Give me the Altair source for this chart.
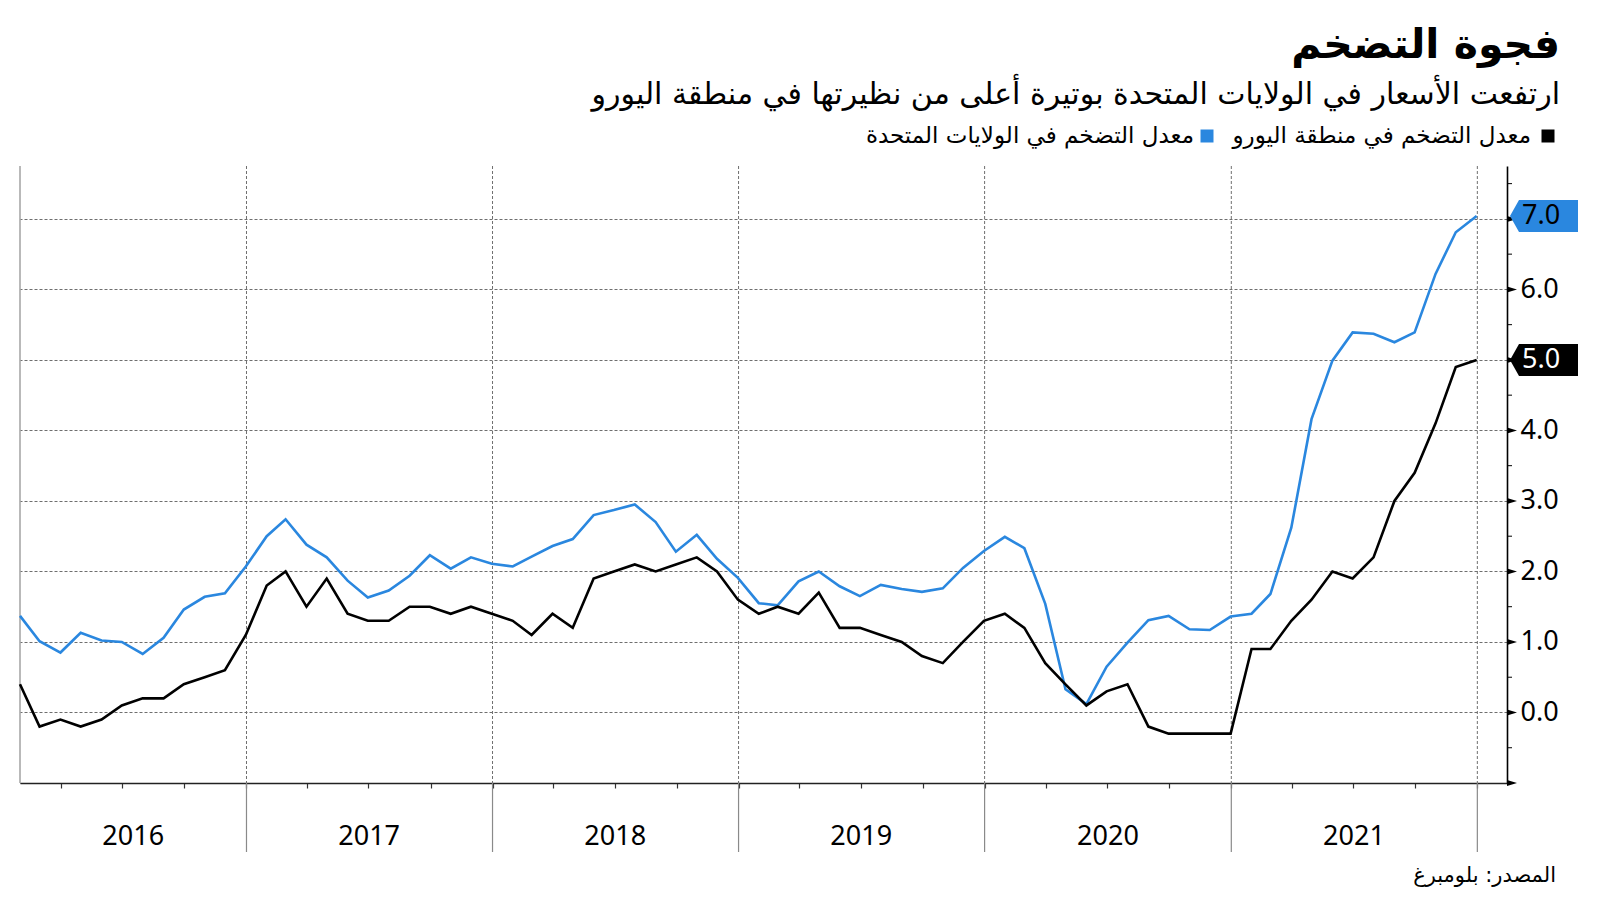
import altair as alt
import pandas as pd

# ---------------- data ----------------
US = [1.37, 1.01, 0.85, 1.13, 1.02, 1.00, 0.83, 1.06, 1.46, 1.64, 1.69, 2.07,
      2.50, 2.74, 2.38, 2.20, 1.87, 1.63, 1.73, 1.94, 2.23, 2.04, 2.20, 2.11,
      2.07, 2.21, 2.36, 2.46, 2.80, 2.87, 2.95, 2.70, 2.28, 2.52, 2.18, 1.91,
      1.55, 1.52, 1.86, 2.00, 1.79, 1.65, 1.81, 1.75, 1.71, 1.76, 2.05, 2.29,
      2.49, 2.33, 1.54, 0.33, 0.12, 0.65, 0.99, 1.31, 1.37, 1.18, 1.17, 1.36,
      1.40, 1.68, 2.62, 4.16, 4.99, 5.39, 5.37, 5.25, 5.39, 6.22, 6.81, 7.04]
EURO = [0.4, -0.2, -0.1, -0.2, -0.1, 0.1, 0.2, 0.2, 0.4, 0.5, 0.6, 1.1,
        1.8, 2.0, 1.5, 1.9, 1.4, 1.3, 1.3, 1.5, 1.5, 1.4, 1.5, 1.4,
        1.3, 1.1, 1.4, 1.2, 1.9, 2.0, 2.1, 2.0, 2.1, 2.2, 2.0, 1.6,
        1.4, 1.5, 1.4, 1.7, 1.2, 1.2, 1.1, 1.0, 0.8, 0.7, 1.0, 1.3,
        1.4, 1.2, 0.7, 0.4, 0.1, 0.3, 0.4, -0.2, -0.3, -0.3, -0.3, -0.3,
        0.9, 0.9, 1.3, 1.6, 2.0, 1.9, 2.2, 3.0, 3.4, 4.1, 4.9, 5.0]
YEARS = [2016, 2017, 2018, 2019, 2020, 2021]
YEAR_LABEL_DATES = ["2016-07-17", "2017-07-02", "2018-07-02", "2019-07-02",
                    "2020-07-02", "2021-07-02"]
Y_TICKS = [-1, 0, 1, 2, 3, 4, 5, 6, 7]
Y_MINOR = [-0.5, 0.5, 1.5, 2.5, 3.5, 4.5, 5.5, 6.5, 7.5]

TITLE = "فجوة التضخم"
SUBTITLE = "ارتفعت الأسعار في الولايات المتحدة بوتيرة أعلى من نظيرتها في منطقة اليورو"
LEG_EURO = "معدل التضخم في منطقة اليورو"
LEG_US = "معدل التضخم في الولايات المتحدة"
SOURCE = "المصدر: بلومبرغ"

BLUE = "#2a87df"
BLACK = "#000000"
GRID = "#6f6f6f"
AR_FONT = "DejaVu Sans"
NUM_FONT = "Noto Sans"

W, H = 1487, 617

dates = pd.date_range("2016-01-31", periods=len(US), freq="ME").strftime("%Y-%m-%d")
df = pd.DataFrame({
    "date": list(dates) * 2,
    "value": US + EURO,
    "series": ["us"] * len(US) + ["euro"] * len(EURO),
})

xscale = alt.Scale(type="utc",
                   domain=[alt.DateTime(year=2016, month=1, date=31, utc=True),
                           alt.DateTime(year=2022, month=2, date=14, utc=True)])
yscale = alt.Scale(domain=[-1, 7.75], nice=False, zero=False)

quarter_ticks = []
for yr in YEARS:
    for m in (1, 4, 7, 10):
        if yr == 2016 and m == 1:
            continue
        quarter_ticks.append(alt.DateTime(year=yr, month=m, date=1, utc=True))
quarter_ticks.append(alt.DateTime(year=2022, month=1, date=1, utc=True))

badge_vals = [US[-1], EURO[-1]]

lines = alt.Chart(df).mark_line(strokeWidth=2.6, strokeJoin="miter").encode(
    x=alt.X("date:T", scale=xscale,
            axis=alt.Axis(values=quarter_ticks, labels=False, grid=False, title=None,
                          tickSize=5, tickColor="#333", tickWidth=1.2,
                          domainColor="#222", domainWidth=1.6, zindex=0)),
    y=alt.Y("value:Q", scale=yscale,
            axis=alt.Axis(orient="right", values=Y_TICKS, title=None,
                          labelExpr="(datum.value < 0 || datum.value == 5 || datum.value == 7) ? '' : format(datum.value, '.1f')",
                          labelFont=NUM_FONT, labelFontSize=27, labelColor="#000",
                          labelPadding=13, ticks=False,
                          domain=True, domainColor="#000", domainWidth=1.6,
                          grid=True, gridColor=GRID, gridDash=[3, 2], gridWidth=1,
                          zindex=0)),
    color=alt.Color("series:N", scale=alt.Scale(domain=["us", "euro"], range=[BLUE, BLACK]),
                    legend=None),
    detail="series:N",
)

# year boundaries
ydf = pd.DataFrame({"d": [f"{y + 1}-01-01" for y in YEARS]})
year_grid = alt.Chart(ydf).mark_rule(color=GRID, strokeDash=[3, 2], strokeWidth=1).encode(
    x=alt.X("d:T", scale=xscale), y=alt.value(0), y2=alt.value(H))
year_sep = alt.Chart(ydf).mark_rule(color="#8a8a8a", strokeWidth=1.2).encode(
    x=alt.X("d:T", scale=xscale), y=alt.value(H), y2=alt.value(H + 69))
left_edge = alt.Chart(pd.DataFrame({"a": [0]})).mark_rule(color="#8a8a8a", strokeWidth=1.2).encode(
    x=alt.value(0), y=alt.value(0), y2=alt.value(H))

ldf = pd.DataFrame({"d": YEAR_LABEL_DATES, "t": [str(y) for y in YEARS]})
year_labels = alt.Chart(ldf).mark_text(font=NUM_FONT, fontSize=27, baseline="middle",
                                       align="center", color="#000").encode(
    x=alt.X("d:T", scale=xscale), y=alt.value(H + 54), text="t:N")

# right axis tick markers
tri = alt.Chart(pd.DataFrame({"v": Y_TICKS})).mark_point(
    shape="M -1 -0.6 L 1 0 L -1 0.6 Z", size=100, filled=True, color="#000",
    strokeWidth=0, opacity=1).encode(
    x=alt.value(W + 5), y=alt.Y("v:Q", scale=yscale))
minor = alt.Chart(pd.DataFrame({"v": Y_MINOR})).mark_rule(color="#000", strokeWidth=1).encode(
    x=alt.value(W), x2=alt.value(W + 5), y=alt.Y("v:Q", scale=yscale))

# value badges
bdf = pd.DataFrame({"v": badge_vals, "s": ["us", "euro"],
                    "t": [f"{v:.1f}" for v in badge_vals],
                    "tc": ["#000000", "#ffffff"]})
badge = alt.Chart(bdf).mark_point(
    shape="M -1 0 L -0.735 -0.47 L 1 -0.47 L 1 0.47 L -0.735 0.47 Z",
    size=4624, filled=True, strokeWidth=0, opacity=1).encode(
    x=alt.value(W + 37), y=alt.Y("v:Q", scale=yscale),
    color=alt.Color("s:N", scale=alt.Scale(domain=["us", "euro"], range=[BLUE, BLACK]),
                    legend=None))
badge_text = alt.Chart(bdf).mark_text(font=NUM_FONT, fontSize=27, align="left",
                                      baseline="middle").encode(
    x=alt.value(W + 15), y=alt.Y("v:Q", scale=yscale), text="t:N",
    color=alt.Color("tc:N", scale=None))

# titles, legend, source
def txt(s, x, y, size, weight="normal", align="right", baseline="alphabetic", color="#000"):
    return alt.Chart(pd.DataFrame({"t": [s]})).mark_text(
        font=AR_FONT, fontSize=size, fontWeight=weight, align=align,
        baseline=baseline, color=color).encode(
        x=alt.value(x), y=alt.value(y), text="t:N")

title = txt(TITLE, 1540, -108, 41, weight="bold")
subtitle = txt(SUBTITLE, 1540, -62, 30)
leg1 = txt(LEG_EURO, 1511, -23, 23)
leg2 = txt(LEG_US, 1174, -23, 23)
source = txt(SOURCE, 1536, 716, 21)

sq = alt.Chart(pd.DataFrame({"s": ["euro", "us"], "x": [1528, 1187]})).mark_square(
    size=169, filled=True, opacity=1).encode(
    x=alt.X("x:Q", scale=None), y=alt.value(-30),
    color=alt.Color("s:N", scale=alt.Scale(domain=["us", "euro"], range=[BLUE, BLACK]),
                    legend=None))

chart = alt.layer(
    year_grid, left_edge, year_sep, lines, minor, tri, badge, badge_text,
    year_labels, title, subtitle, leg1, leg2, sq, source,
).resolve_scale(color="independent").properties(
    width=W, height=H,
    padding={"left": 12, "top": 158, "right": 85, "bottom": 110},
    autosize=alt.AutoSizeParams(type="none"),
    background="white",
).configure_view(stroke=None)

chart.save("out.html", embed_options={"renderer": "svg", "actions": False})
